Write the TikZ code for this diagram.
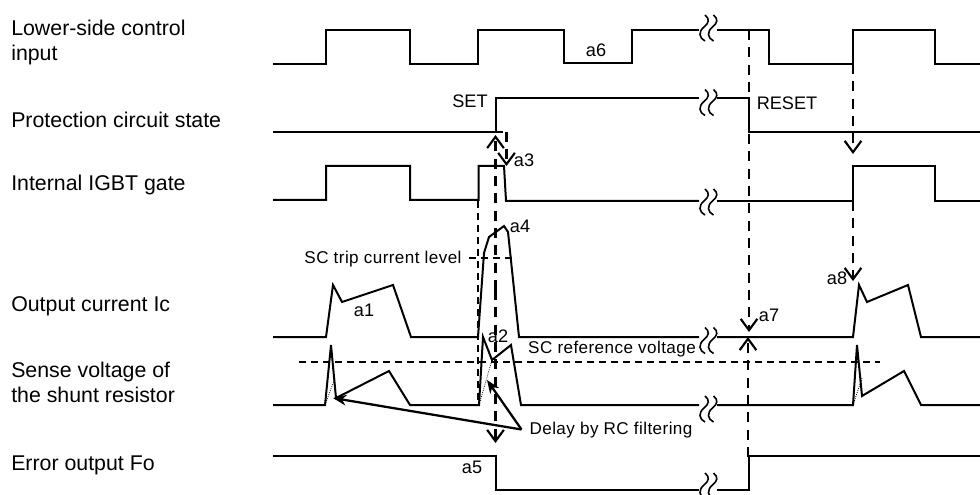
\documentclass[tikz,border=0pt]{standalone}
\usepackage{fontspec}
\setmainfont{Liberation Sans}
\newfontfamily\gothicfont[LetterSpace=2.5]{Liberation Sans}
\usetikzlibrary{arrows.meta}
\newcommand{\wavebreak}[1]{%
\draw [breakmark,shift={(#1)}] (6,-13) .. controls (11,-9) and (10,-5) .. (5,-1) .. controls (-1,4) and (0,10) .. (6,13) ;
\draw [breakmark,shift={(#1)}] (14.5,-13) .. controls (19.5,-9) and (18.5,-5) .. (13.5,-1) .. controls (7.5,4) and (8.5,10) .. (14.5,13) ;
}
\tikzset{
 wave/.style={line width=1.5pt,line join=miter},
 breakmark/.style={line width=1.2pt},
 level/.style={line width=1pt,dash pattern=on 5.5pt off 3.5pt},
 guide/.style={line width=1.8pt,dash pattern=on 7.5pt off 5.5pt},
 guidethin/.style={line width=1.1pt,dash pattern=on 5pt off 4pt},
 guidetip/.style={-{Straight Barb[length=8.5pt,width=12.5pt,line width=1.6pt]}},
 delayline/.style={line width=1.7pt,-{Stealth[length=10pt,width=8pt]}},
 rowlabel/.style={anchor=west,inner sep=0pt,align=left,font=\fontsize{16}{18.75}\selectfont},
 tag/.style={inner sep=0pt,font=\fontsize{13.6}{16}\selectfont},
 smalltag/.style={inner sep=0pt,font=\fontsize{12.8}{15}\gothicfont},
}
\begin{document}
\begin{tikzpicture}[x=0.75pt,y=0.75pt,yscale=-1,xscale=1]
\useasboundingbox (0,0) rectangle (980,495);

%Lower-side control input
\draw [wave] (273,64) -- (326,64) -- (326,30) -- (410,30) -- (410,64) -- (478,64) -- (478,30) -- (564,30) -- (564,63) -- (632,63) -- (632,30) -- (699,30) ;
\draw [wave] (717,30) -- (769,30) -- (769,64) -- (853,64) -- (853,30) -- (935,30) -- (935,64) -- (980,64) ;
\wavebreak{699,28}

%Protection circuit state
\draw [wave] (273,132) -- (496,132) -- (496,98) -- (699,98) ;
\draw [wave] (717,98) -- (749,98) -- (749,132) -- (980,132) ;
\wavebreak{699,102.5}

%Internal IGBT gate
\draw [wave] (273,200) -- (326,200) -- (326,166) -- (410,166) -- (410,200) -- (478.5,200) -- (478.5,166) -- (504,166) -- (506,201) -- (699,201) ;
\draw [wave] (717,201) -- (853,201) -- (853,166) -- (935,166) -- (935,201) -- (980,201) ;
\wavebreak{699,202}

%Output current Ic
\draw [wave] (273,337) -- (326,337) -- (333,285) -- (342,302) -- (393,285) -- (411,337) -- (478,337) -- (484,253) -- (489,237) -- (504,226) -- (508,232) -- (519,337) -- (699,337) ;
\draw [wave] (717,337) -- (853,337) -- (859,285) -- (867,302) -- (908,285) -- (921,337) -- (980,337) ;
\wavebreak{699,340.5}

%Sense voltage of the shunt resistor
\draw [wave] (273,405) -- (325,405) -- (331,345) -- (336,398) -- (389,371) -- (410,405) -- (479,405) -- (483,337) -- (492,360) -- (511,345) -- (521,405) -- (699,405) ;
\draw [wave] (717,405) -- (853,405) -- (857,345) -- (862,396) -- (904,371) -- (921,405) -- (980,405) ;
\draw [densely dotted,line width=0.6pt] (325,405) -- (335,378) ;
\draw [densely dotted,line width=0.6pt] (479,405) -- (492,360) ;
\draw [densely dotted,line width=0.6pt] (853,405) -- (862,378) ;
\wavebreak{699,409}

%Error output Fo
\draw [wave] (273,456) -- (496,456) -- (496,490) -- (699,490) ;
\draw [wave] (717,490) -- (749,490) -- (749,456) -- (980,456) ;
\wavebreak{699,486}

%Levels
\draw [level] (299,362) -- (880,362) ;
\draw [level] (469,258) -- (513,258) ;
\draw [level] (496,132) -- (508,132) ;

%Cause and effect arrows
\coordinate (setfoot) at (495.5,443) ;
\coordinate (settop) at (495.5,135) ;
\coordinate (setmid) at (495.5,290) ;
\coordinate (tripfrom) at (506.5,132) ;
\coordinate (tripto) at (506.5,166) ;
\coordinate (resettop) at (749,30) ;
\coordinate (resetto) at (749,332) ;
\coordinate (errorup) at (748,457) ;
\coordinate (errorto) at (748,337) ;
\coordinate (inputfoot) at (853,64) ;
\coordinate (inputto) at (853,154) ;
\coordinate (gatefoot) at (853,201) ;
\coordinate (gateto) at (853,281) ;
\coordinate (gatestart) at (478,201) ;
\coordinate (gatedown) at (478,405) ;
\draw [guide,guidetip] (setmid) -- (settop) ;
\draw [guide,guidetip] (setmid) -- (setfoot) ;
\draw [guide,guidetip] (tripfrom) -- (tripto) ;
\draw [guide,guidetip] (resettop) -- (resetto) ;
\draw [guide,guidetip] (errorup) -- (errorto) ;
\draw [guide,guidetip] (inputfoot) -- (inputto) ;
\draw [guide,guidetip] (gatefoot) -- (gateto) ;
\draw [guidethin] (gatestart) -- (gatedown) ;

% Text Node
\draw (11,42.5) node [rowlabel] (inputlabel) {Lower-side control\\input};
% Text Node
\draw (11,120) node [rowlabel] (statelabel) {Protection circuit state};
% Text Node
\draw (11,185) node [rowlabel] (gatelabel) {Internal IGBT gate};
% Text Node
\draw (11,306) node [rowlabel] (currentlabel) {Output current Ic};
% Text Node
\draw (11,382.5) node [rowlabel] (senselabel) {Sense voltage of\\the shunt resistor};
% Text Node
\draw (11,465) node [rowlabel] (errorlabel) {Error output Fo};
% Text Node
\draw (470,101) node [tag] (setlabel) {SET};
% Text Node
\draw (787,103) node [tag] (resetlabel) {RESET};
% Text Node
\draw (383,259) node [smalltag] (triplabel) {SC trip current level};
% Text Node
\draw (612,349) node [smalltag] (reflabel) {SC reference voltage};
% Text Node
\draw (611,430) node [smalltag] (delaylabel) {Delay by RC filtering};
% Text Node
\draw (364,310) node [tag] (aone) {a1};
% Text Node
\draw (498,336) node [tag] (atwo) {a2};
% Text Node
\draw (524,160) node [tag] (athree) {a3};
% Text Node
\draw (520,226) node [tag] (afour) {a4};
% Text Node
\draw (472,467) node [tag] (afive) {a5};
% Text Node
\draw (596,50) node [tag] (asix) {a6};
% Text Node
\draw (769,315) node [tag] (aseven) {a7};
% Text Node
\draw (837,278) node [tag] (aeight) {a8};

%Delay arrows
\coordinate (delayfoot) at (521.5,429.5) ;
\coordinate (delayone) at (333,398) ;
\coordinate (delaytwo) at (487,380) ;
\draw [delayline] (delayfoot) -- (delayone) ;
\draw [delayline] (delayfoot) -- (delaytwo) ;

\end{tikzpicture}
\end{document}
